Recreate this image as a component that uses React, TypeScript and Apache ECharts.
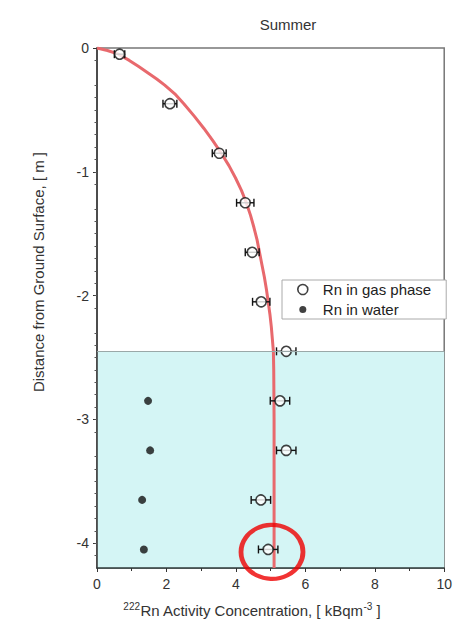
import React, { useEffect, useRef } from "react";
import * as echarts from "echarts";

const gasDepth = [-0.05, -0.45, -0.85, -1.25, -1.65, -2.05, -2.45, -2.85, -3.25, -3.65, -4.05];
const gasConc = [0.65, 2.1, 3.52, 4.27, 4.47, 4.73, 5.45, 5.27, 5.45, 4.72, 4.93];
const gasErr = [0.15, 0.2, 0.2, 0.25, 0.2, 0.25, 0.28, 0.28, 0.28, 0.28, 0.28];
const waterDepth = [-2.85, -3.25, -3.65, -4.05];
const waterConc = [1.47, 1.53, 1.3, 1.35];
const curveDepth = [0, -0.02, -0.05, -0.1, -0.15, -0.2, -0.25, -0.3, -0.37, -0.45, -0.55, -0.65, -0.75, -0.85, -0.95, -1.05, -1.15, -1.25, -1.35, -1.45, -1.55, -1.65, -1.75, -1.85, -1.95, -2.05, -2.15, -2.25, -2.35, -2.45, -2.6, -3.0, -4.2];
const curveConc = [0, 0.3, 0.62, 0.93, 1.2, 1.46, 1.72, 1.95, 2.24, 2.5, 2.8, 3.08, 3.34, 3.58, 3.8, 3.99, 4.16, 4.3, 4.42, 4.52, 4.61, 4.68, 4.75, 4.82, 4.88, 4.93, 4.98, 5.02, 5.05, 5.08, 5.09, 5.1, 5.1];
const waterTable = -2.45;
const highlight = [5.04, -4.07];
const xTicks = [0, 2, 4, 6, 8, 10];
const yTicks = [0, -1, -2, -3, -4];

const FONT = "'Liberation Sans', Arial, sans-serif";

export default function App() {
  const ref = useRef<HTMLDivElement>(null);
  useEffect(() => {
    if (!ref.current) return;
    const chart = echarts.init(ref.current, undefined, { renderer: "svg" });
    const gasData = gasConc.map((c, i) => [c, gasDepth[i], gasErr[i]]);
    const option = {
      animation: false,
      backgroundColor: "#ffffff",
      grid: { left: 97, right: 10, top: 48, bottom: 57, show: true, borderColor: "#777", borderWidth: 1.5, backgroundColor: "transparent" },
      title: {
        text: "Summer",
        left: 283,
        top: 12,
        textAlign: "center",
        textStyle: { fontFamily: FONT, fontSize: 15, fontWeight: "normal", color: "#333" },
      },
      legend: {
        left: 282,
        top: 280,
        orient: "vertical",
        padding: [2, 15, 2, 15],
        itemGap: 5,
        itemWidth: 30,
        itemHeight: 10,
        symbolKeepAspect: true,
        borderColor: "#aaa",
        borderWidth: 1,
        borderRadius: 0,
        backgroundColor: "#ffffff",
        textStyle: { fontFamily: FONT, fontSize: 15, color: "#222" },
        data: [
          { name: "Rn in gas phase", icon: "circle", itemStyle: { color: "#ffffff", borderColor: "#111", borderWidth: 1.6 } },
          { name: "Rn in water", icon: "path://M0 0M10 10M5 1.5A3.5 3.5 0 1 1 5 8.5A3.5 3.5 0 1 1 5 1.5Z", itemStyle: { color: "#111", borderWidth: 0 } },
        ],
      },
      xAxis: {
        type: "value",
        min: 0,
        max: 10,
        interval: 2,
        axisLine: { show: true, onZero: false, lineStyle: { color: "#2f3b3b", width: 1.5 } },
        axisTick: { show: true, length: 4, lineStyle: { color: "#333" } },
        minorTick: { show: true, splitNumber: 2, length: 3, lineStyle: { color: "#333" } },
        splitLine: { show: false },
        axisLabel: { fontFamily: FONT, fontSize: 14, color: "#333", margin: 9, customValues: xTicks },
      },
      yAxis: {
        type: "value",
        min: -4.2,
        max: 0,
        interval: 1,
        axisLine: { show: true, onZero: false, lineStyle: { color: "#333", width: 1.5 } },
        axisTick: { show: true, length: 4, customValues: yTicks, lineStyle: { color: "#333" } },
        minorTick: { show: true, splitNumber: 10, length: 2.5, lineStyle: { color: "#555" } },
        splitLine: { show: false },
        axisLabel: { fontFamily: FONT, fontSize: 14, color: "#333", margin: 8, customValues: yTicks },
      },
      graphic: [
        {
          type: "text",
          x: 38,
          y: 272,
          rotation: Math.PI / 2,
          style: {
            text: "Distance from Ground Surface, [ m ]",
            fontFamily: FONT,
            fontSize: 15,
            fill: "#333",
            align: "center",
            verticalAlign: "middle",
          },
        },
        {
          type: "text",
          x: 252,
          y: 610,
          style: {
            text: "{sup|222}Rn Activity Concentration, [ kBqm{sup|-3} ]",
            fontFamily: FONT,
            fontSize: 15,
            fill: "#333",
            align: "center",
            verticalAlign: "middle",
            rich: {
              sup: { fontFamily: FONT, fontSize: 10, fill: "#333", verticalAlign: "top", padding: [0, 0, 8, 0] },
            },
          },
        },
      ],
      series: [
        {
          name: "fit",
          type: "line",
          z: 2,
          data: curveConc.map((c, i) => [c, curveDepth[i]]),
          smooth: false,
          showSymbol: false,
          lineStyle: { color: "#e8696d", width: 3, join: "round" },
          markArea: {
            silent: true,
            z: 0,
            itemStyle: { color: "#d4f5f5" },
            data: [[{ coord: [0, waterTable] }, { coord: [10, -4.2] }]],
          },
          markLine: {
            silent: true,
            symbol: "none",
            label: { show: false },
            lineStyle: { color: "#9aa8a8", width: 1, type: "solid" },
            data: [{ yAxis: waterTable }],
          },
        },
        {
          name: "err",
          type: "custom",
          z: 3,
          data: gasData,
          renderItem: (params: any, api: any) => {
            const x = api.value(0);
            const y = api.value(1);
            const e = api.value(2);
            const p1 = api.coord([x - e, y]);
            const p2 = api.coord([x + e, y]);
            const style = { stroke: "#111", lineWidth: 1.4 };
            return {
              type: "group",
              children: [
                { type: "line", shape: { x1: p1[0], y1: p1[1], x2: p2[0], y2: p2[1] }, style },
                { type: "line", shape: { x1: p1[0], y1: p1[1] - 4, x2: p1[0], y2: p1[1] + 4 }, style },
                { type: "line", shape: { x1: p2[0], y1: p2[1] - 4, x2: p2[0], y2: p2[1] + 4 }, style },
              ],
            };
          },
        },
        {
          name: "Rn in gas phase",
          type: "scatter",
          z: 4,
          data: gasData.map((d) => [d[0], d[1]]),
          symbol: "circle",
          symbolSize: 10,
          itemStyle: { color: "#ffffff", borderColor: "#111", borderWidth: 1.6 },
        },
        {
          name: "Rn in water",
          type: "scatter",
          z: 4,
          data: waterConc.map((c, i) => [c, waterDepth[i]]),
          symbol: "circle",
          symbolSize: 8,
          itemStyle: { color: "#111" },
        },
        {
          name: "highlight",
          type: "scatter",
          z: 5,
          silent: true,
          data: [highlight],
          symbol: "circle",
          symbolSize: [62, 54],
          itemStyle: { color: "rgba(0,0,0,0)", borderColor: "#ee0000", borderWidth: 4.5 },
        },
      ],
    };
    chart.setOption(option as any);
    return () => chart.dispose();
  }, []);
  return <div ref={ref} style={{ position: "fixed", left: 0, top: 0, width: 455, height: 625 }} />;
}
